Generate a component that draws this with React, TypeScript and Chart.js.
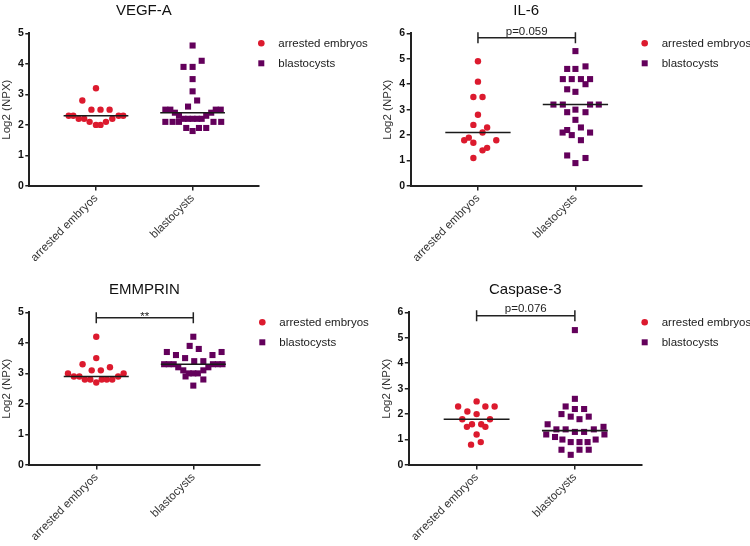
import React, { useEffect, useRef } from 'react';
import { Chart, registerables } from 'chart.js';

Chart.register(...registerables);

const FONT = 'Liberation Sans, Arial, sans-serif';
const RED = '#dc1a2e';
const PURPLE = '#63005b';

const categories = ['arrested embryos', 'blastocysts'];
const panelTitles = ['VEGF-A', 'IL-6', 'EMMPRIN', 'Caspase-3'];
const yMaxes = [5, 6, 5, 6];

// VEGF-A
const vegfArrestedY = [3.2, 2.8, 2.5, 2.5, 2.5, 2.3, 2.3, 2.3, 2.3, 2.2, 2.2, 2.2, 2.1, 2.1, 2.0, 2.0];
const vegfArrestedSlot = [0, -3, -1, 1, 3, -6, -5, 5, 6, -3.8, -2.6, 3.6, -1.4, 2.2, 0, 1];
const vegfBlastY = [4.6, 4.1, 3.9, 3.9, 3.5, 3.1, 2.8, 2.6, 2.5, 2.5, 2.5, 2.5, 2.4, 2.4, 2.3, 2.3, 2.2, 2.2, 2.2, 2.2, 2.2, 2.1, 2.1, 2.1, 2.1, 2.1, 1.9, 1.9, 1.9, 1.8];
const vegfBlastSlot = [0, 2, -2, 0, 0, 0, 1, -1, -6, -4.9, 5.1, 6.2, -3.9, 4.1, -3, 3, -2, -1, 0, 1, 2, -6, -4.4, -3, 4.6, 6.3, -1.4, 1.4, 3, 0];

// IL-6
const il6ArrestedY = [4.9, 4.1, 3.5, 3.5, 2.8, 2.4, 2.3, 2.1, 1.9, 1.8, 1.8, 1.7, 1.5, 1.4, 1.1];
const il6ArrestedSlot = [0, 0, -1, 1, 0, -1, 2, 1, -2, -3, 4, -1, 2, 1, -1];
const il6BlastY = [5.3, 4.7, 4.6, 4.6, 4.2, 4.2, 4.2, 4.2, 4.0, 3.8, 3.7, 3.2, 3.2, 3.2, 3.2, 3.0, 2.9, 2.9, 2.6, 2.3, 2.2, 2.1, 2.1, 2.0, 1.8, 1.2, 1.1, 0.9];
const il6BlastSlot = [0, 2.2, -1.8, 0, -2.75, -0.8, 1.2, 3.2, 2.2, -1.8, 0, -4.8, -2.75, 3.2, 5.1, 0, -1.8, 2.2, 0, 1.2, -1.8, -2.8, 3.2, -0.8, 1.2, -1.8, 2.2, 0];

// EMMPRIN
const emmArrestedY = [4.2, 3.5, 3.3, 3.2, 3.1, 3.1, 3.0, 3.0, 2.9, 2.9, 2.9, 2.8, 2.8, 2.8, 2.8, 2.8, 2.7];
const emmArrestedSlot = [0, 0, -3, 3, -1, 1, -6.2, 6, -4.9, -3.7, 4.8, -2.5, -1.3, 1.2, 2.3, 3.5, 0];
const emmBlastY = [4.2, 3.9, 3.8, 3.7, 3.7, 3.6, 3.6, 3.5, 3.4, 3.4, 3.3, 3.3, 3.3, 3.3, 3.3, 3.3, 3.2, 3.2, 3.1, 3.1, 3.0, 3.0, 3.0, 2.9, 2.8, 2.6];
const emmBlastSlot = [0, -0.8, 1.2, -5.8, 6.2, -3.8, 4.2, -1.8, 0.2, 2.2, -6.4, -5.4, -4.3, 4.3, 5.4, 6.4, -3.3, 3.3, -2.2, 2.2, -1, 0, 1, -1.7, 2.2, 0];

// Caspase-3
const casArrestedY = [2.5, 2.3, 2.3, 2.3, 2.1, 2.0, 1.8, 1.8, 1.6, 1.6, 1.5, 1.5, 1.2, 0.9, 0.8];
const casArrestedSlot = [0, -4, 1.9, 3.9, -2, 0, -3.1, 2.9, -1, 1, -2.1, 1.9, 0, 0.9, -1.2];
const casBlastY = [5.3, 2.6, 2.3, 2.2, 2.2, 2.0, 1.9, 1.9, 1.8, 1.6, 1.5, 1.4, 1.4, 1.4, 1.3, 1.3, 1.2, 1.2, 1.1, 1.0, 1.0, 0.9, 0.9, 0.9, 0.6, 0.6, 0.6, 0.4];
const casBlastSlot = [0, 0, -2, 0, 2, -2.9, -0.9, 3, 1, -5.9, 6.2, -4, -2, 4.1, 0, 2, -6.2, 6.4, -4.3, -2.7, 4.5, -0.9, 1, 2.75, -2.9, 1, 3, -0.9];

// medians (arrested, blastocysts)
const vegfMedians = [2.3, 2.4];
const il6Medians = [2.1, 3.2];
const emmMedians = [2.9, 3.3];
const casMedians = [1.8, 1.35];

// significance brackets
const bracketLevels = [null, 5.83, 4.82, 5.86];
const bracketLabels = ['', 'p=0.059', '**', 'p=0.076'];

const SLOT = 0.047; // category units per half-marker step
const MEDIAN_HALF = 0.335;

type PanelDef = {
  title: string;
  yMax: number;
  arrY: number[];
  arrSlot: number[];
  blaY: number[];
  blaSlot: number[];
  medians: number[];
  bracket: number | null;
  sig: string;
  padLeft: number;
  padRight: number;
  sigLift: number;
  left: number;
  top: number;
};

const panels: PanelDef[] = [
  { title: panelTitles[0], yMax: yMaxes[0], arrY: vegfArrestedY, arrSlot: vegfArrestedSlot, blaY: vegfBlastY, blaSlot: vegfBlastSlot, medians: vegfMedians, bracket: bracketLevels[0], sig: bracketLabels[0], padLeft: 0, padRight: 116.7, sigLift: 3, left: 0, top: 0 },
  { title: panelTitles[1], yMax: yMaxes[1], arrY: il6ArrestedY, arrSlot: il6ArrestedSlot, blaY: il6BlastY, blaSlot: il6BlastSlot, medians: il6Medians, bracket: bracketLevels[1], sig: bracketLabels[1], padLeft: 6.4, padRight: 108.3, sigLift: 3, left: 375, top: 0 },
  { title: panelTitles[2], yMax: yMaxes[2], arrY: emmArrestedY, arrSlot: emmArrestedSlot, blaY: emmBlastY, blaSlot: emmBlastSlot, medians: emmMedians, bracket: bracketLevels[2], sig: bracketLabels[2], padLeft: 0, padRight: 115.7, sigLift: -2, left: 0, top: 279 },
  { title: panelTitles[3], yMax: yMaxes[3], arrY: casArrestedY, arrSlot: casArrestedSlot, blaY: casBlastY, blaSlot: casBlastSlot, medians: casMedians, bracket: bracketLevels[3], sig: bracketLabels[3], padLeft: 4.5, padRight: 108.3, sigLift: 4, left: 375, top: 279 },
];

function makePoints(cat: number, ys: number[], slots: number[]) {
  return ys.map((y, i) => ({ x: cat + slots[i] * SLOT, y }));
}

function medianLine(cat: number, m: number) {
  return [
    { x: cat - MEDIAN_HALF, y: m },
    { x: cat + MEDIAN_HALF, y: m },
  ];
}

function PanelChart({ p }: { p: PanelDef }) {
  const ref = useRef<HTMLCanvasElement | null>(null);
  useEffect(() => {
    if (!ref.current) return;
    const annot = {
      id: 'annot' + p.title,
      afterDraw(chart: any) {
        const { ctx, chartArea, scales } = chart;
        const xs = scales.x;
        const ys = scales.y;
        ctx.save();
        if (p.bracket !== null) {
          const x1 = xs.getPixelForValue(1);
          const x2 = xs.getPixelForValue(2);
          const yb = ys.getPixelForValue(p.bracket);
          ctx.strokeStyle = '#222';
          ctx.lineWidth = 1.5;
          ctx.beginPath();
          ctx.moveTo(x1, yb);
          ctx.lineTo(x2, yb);
          ctx.moveTo(x1, yb - 5.5);
          ctx.lineTo(x1, yb + 5.5);
          ctx.moveTo(x2, yb - 5.5);
          ctx.lineTo(x2, yb + 5.5);
          ctx.stroke();
          ctx.fillStyle = '#222';
          ctx.font = `11.5px ${FONT}`;
          ctx.textAlign = 'center';
          ctx.textBaseline = 'alphabetic';
          ctx.fillText(p.sig, (x1 + x2) / 2, yb - p.sigLift);
        }
        // legend
        const entries = [
          { label: categories[0], color: RED, shape: 'circle' },
          { label: categories[1], color: PURPLE, shape: 'rect' },
        ];
        entries.forEach((e, i) => {
          const cx = chartArea.right + 3;
          const cy = chartArea.top + 10 + i * 20;
          ctx.fillStyle = e.color;
          ctx.beginPath();
          if (e.shape === 'circle') {
            ctx.arc(cx, cy, 3.3, 0, Math.PI * 2);
          } else {
            ctx.rect(cx - 3, cy - 3, 6, 6);
          }
          ctx.fill();
          ctx.fillStyle = '#1a1a1a';
          ctx.font = `11.5px ${FONT}`;
          ctx.textAlign = 'left';
          ctx.textBaseline = 'middle';
          ctx.fillText(e.label, cx + 17, cy + 0.5);
        });
        ctx.restore();
      },
    };

    const chart = new Chart(ref.current, {
      type: 'scatter',
      data: {
        datasets: [
          {
            label: 'median-a',
            data: medianLine(1, p.medians[0]),
            showLine: true,
            pointRadius: 0,
            borderColor: '#1a1a1a',
            borderWidth: 1.6,
            order: 0,
          } as any,
          {
            label: 'median-b',
            data: medianLine(2, p.medians[1]),
            showLine: true,
            pointRadius: 0,
            borderColor: '#1a1a1a',
            borderWidth: 1.6,
            order: 0,
          } as any,
          {
            label: categories[0],
            data: makePoints(1, p.arrY, p.arrSlot),
            pointStyle: 'circle',
            pointRadius: 3.2,
            backgroundColor: RED,
            borderColor: RED,
            borderWidth: 0,
            order: 1,
            clip: false,
          } as any,
          {
            label: categories[1],
            data: makePoints(2, p.blaY, p.blaSlot),
            pointStyle: 'rect',
            pointRadius: 4.3,
            backgroundColor: PURPLE,
            borderColor: PURPLE,
            borderWidth: 0,
            order: 1,
            clip: false,
          } as any,
        ],
      },
      options: {
        responsive: false,
        animation: false,
        events: [],
        layout: { padding: { left: p.padLeft, right: p.padRight, top: 0, bottom: 0 } },
        plugins: {
          legend: { display: false },
          tooltip: { enabled: false },
          title: {
            display: true,
            text: p.title,
            fullSize: false,
            color: '#111',
            font: { family: FONT, size: 15, weight: 'normal' },
            padding: { top: 1.5, bottom: 13.8 },
          },
        },
        scales: {
          x: {
            type: 'linear',
            min: 0.31,
            max: 2.68,
            afterBuildTicks: (axis: any) => {
              axis.ticks = [{ value: 1 }, { value: 2 }];
            },
            afterFit: (s: any) => {
              s.height = 93;
            },
            grid: {
              drawOnChartArea: false,
              drawTicks: true,
              tickLength: 4.5,
              color: '#222',
              lineWidth: 1.5,
            },
            border: { color: '#222', width: 2 },
            ticks: {
              autoSkip: false,
              minRotation: 45,
              maxRotation: 45,
              padding: 1,
              color: '#333',
              font: { family: FONT, size: 11.5 },
              callback: (v: any) => categories[Math.round(Number(v)) - 1] ?? '',
            },
          },
          y: {
            type: 'linear',
            min: 0,
            max: p.yMax,
            afterFit: (s: any) => {
              s.width = 29.3;
            },
            grid: {
              drawOnChartArea: false,
              drawTicks: true,
              tickLength: 4,
              color: '#222',
              lineWidth: 1.5,
            },
            border: { color: '#222', width: 2 },
            ticks: {
              stepSize: 1,
              padding: 1.5,
              color: '#111',
              font: { family: FONT, size: 10.5, weight: 'bold' },
            },
            title: {
              display: true,
              text: 'Log2 (NPX)',
              color: '#333',
              font: { family: FONT, size: 11.5 },
              padding: { top: 0, bottom: 0 },
            },
          },
        },
      } as any,
      plugins: [annot],
    });
    return () => chart.destroy();
  }, [p]);

  return (
    <canvas
      ref={ref}
      width={375}
      height={279}
      style={{ position: 'absolute', left: p.left, top: p.top, width: 375, height: 279 }}
    />
  );
}

export default function App() {
  return (
    <div
      style={{
        position: 'absolute',
        left: 0,
        top: 0,
        width: 750,
        height: 546,
        overflow: 'hidden',
        background: '#ffffff',
      }}
    >
      {panels.map((p) => (
        <PanelChart key={p.title} p={p} />
      ))}
    </div>
  );
}
